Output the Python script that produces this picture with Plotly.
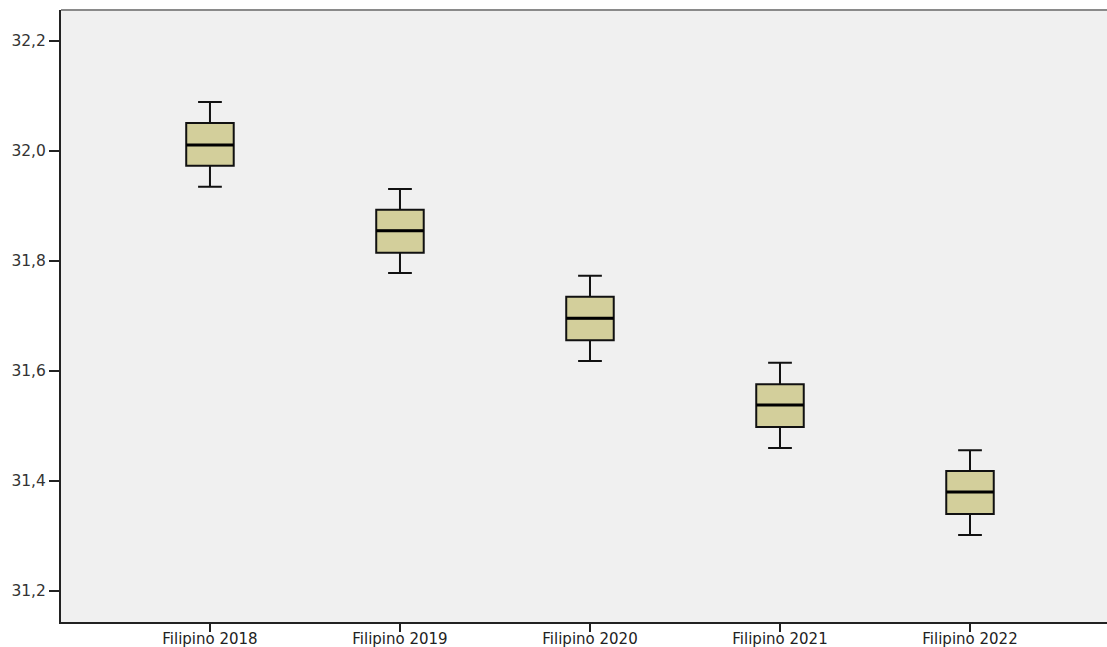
import plotly.graph_objects as go

# Five-number summaries per group
categories = ["Filipino 2018", "Filipino 2019", "Filipino 2020", "Filipino 2021", "Filipino 2022"]
lower_whisker = [31.935, 31.778, 31.618, 31.460, 31.302]
q1_values = [31.973, 31.815, 31.656, 31.498, 31.340]
medians = [32.011, 31.855, 31.696, 31.538, 31.380]
q3_values = [32.051, 31.893, 31.735, 31.576, 31.418]
upper_whisker = [32.089, 31.931, 31.773, 31.615, 31.456]

y_ticks = [31.2, 31.4, 31.6, 31.8, 32.0, 32.2]

BOX_WIDTH = 0.25

fig = go.Figure()
fig.add_trace(go.Box(
    x=categories,
    q1=q1_values,
    median=medians,
    q3=q3_values,
    lowerfence=lower_whisker,
    upperfence=upper_whisker,
    fillcolor="#D3CF9B",
    line=dict(color="#111111", width=2),
    width=BOX_WIDTH,
    whiskerwidth=0.5,
    boxpoints=False,
    hoverinfo="skip",
    showlegend=False,
))

# Heavier median bars drawn over each box
for i, m in enumerate(medians):
    fig.add_shape(type="line", xref="x", yref="y",
                  x0=i - BOX_WIDTH / 2, x1=i + BOX_WIDTH / 2, y0=m, y1=m,
                  line=dict(color="#000000", width=3))

# Grey frame line along the top of the plot area
fig.add_shape(type="line", xref="paper", yref="paper",
              x0=0, x1=1, y0=1, y1=1,
              line=dict(color="#8a8a8a", width=2))

fig.update_layout(
    width=1107, height=647,
    margin=dict(l=61, r=0, t=10, b=25, autoexpand=False),
    paper_bgcolor="white",
    plot_bgcolor="#F0F0F0",
    separators=",.",
    font=dict(family="DejaVu Sans, Liberation Sans, sans-serif", color="#222222"),
    xaxis=dict(
        type="category",
        automargin=False,
        range=[-0.784, 4.721],
        showgrid=False, zeroline=False,
        showline=True, linecolor="#222222", linewidth=2,
        ticks="outside", ticklen=8, tickwidth=2, tickcolor="#222222",
        ticklabelstandoff=-6,
        tickfont=dict(size=15, color="#222222"),
    ),
    yaxis=dict(
        automargin=False,
        range=[31.1436, 32.2564],
        tickvals=y_ticks,
        tickformat=".1f",
        showgrid=False, zeroline=False,
        showline=True, linecolor="#222222", linewidth=2,
        ticks="outside", ticklen=10, tickwidth=2, tickcolor="#222222",
        tickfont=dict(size=15.5, color="#333333"),
    ),
)

fig.write_html("out.html")
